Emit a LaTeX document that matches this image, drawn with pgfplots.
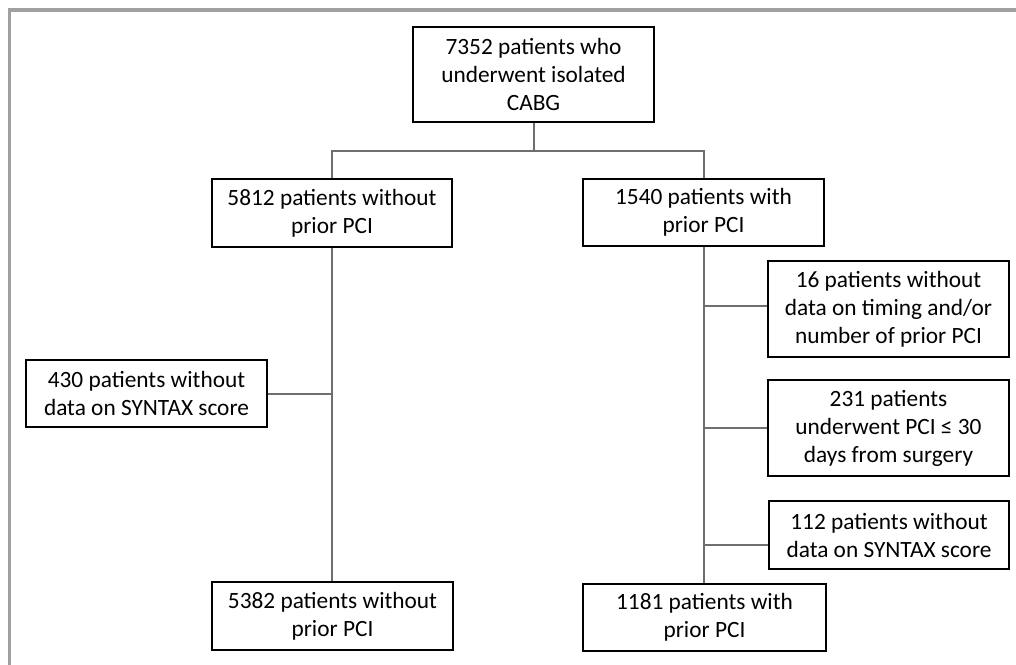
\documentclass[border=0pt]{standalone}
\usepackage{fontspec}
\setmainfont{Carlito}
\usepackage{pgfplots}
\pgfplotsset{compat=1.18}
\definecolor{framegray}{RGB}{160,160,160}
\definecolor{linegray}{RGB}{110,110,110}
\tikzset{fb/.style={align=center, font=\fontsize{17.5}{21}\selectfont, text=black, inner sep=0pt}}
\begin{document}
\begin{tikzpicture}
\begin{axis}[
  width=762pt, height=498pt, scale only axis,
  xmin=0, xmax=1016, ymin=0, ymax=664, y dir=reverse,
  hide axis, clip=false,
]
% outer frame
\addplot[framegray, line width=2.3pt, line cap=rect] coordinates {(9.5,664) (9.5,10) (1016,10)};
% connectors
\addplot[linegray, line width=0.8pt] coordinates {(534,122) (534,151)};
\addplot[linegray, line width=0.8pt] coordinates {(332,179) (332,151) (704,151) (704,179)};
\addplot[linegray, line width=0.8pt] coordinates {(332,247) (332,582)};
\addplot[linegray, line width=0.8pt] coordinates {(267,394) (332,394)};
\addplot[linegray, line width=0.8pt] coordinates {(704,246) (704,584)};
\addplot[linegray, line width=0.8pt] coordinates {(704,306) (768,306)};
\addplot[linegray, line width=0.8pt] coordinates {(704,428) (768,428)};
\addplot[linegray, line width=0.8pt] coordinates {(704,545) (769,545)};
% boxes
\addplot[black, line width=1pt] coordinates {(413,27) (654,27) (654,122) (413,122)} -- cycle;
\addplot[black, line width=1pt] coordinates {(212,179) (452,179) (452,247) (212,247)} -- cycle;
\addplot[black, line width=1pt] coordinates {(583,179) (824,179) (824,246) (583,246)} -- cycle;
\addplot[black, line width=1pt] coordinates {(26,360) (267,360) (267,427) (26,427)} -- cycle;
\addplot[black, line width=1pt] coordinates {(212,582) (453,582) (453,650) (212,650)} -- cycle;
\addplot[black, line width=1pt] coordinates {(768,261) (1009,261) (1009,357) (768,357)} -- cycle;
\addplot[black, line width=1pt] coordinates {(768,380) (1009,380) (1009,476) (768,476)} -- cycle;
\addplot[black, line width=1pt] coordinates {(769,501) (1009,501) (1009,569) (769,569)} -- cycle;
\addplot[black, line width=1pt] coordinates {(583,584) (826,584) (826,651) (583,651)} -- cycle;
% texts
\node[fb] at (axis cs:533.5,74.5) {7352 patients who\\underwent isolated\\CABG};
\node[fb] at (axis cs:332,213) {5812 patients without\\prior PCI};
\node[fb] at (axis cs:703.5,212.5) {1540 patients with\\prior PCI};
\node[fb] at (axis cs:146.5,393.5) {430 patients without\\data on SYNTAX score};
\node[fb] at (axis cs:332.5,616) {5382 patients without\\prior PCI};
\node[fb] at (axis cs:888.5,309) {16 patients without\\data on timing and/or\\number of prior PCI};
\node[fb] at (axis cs:888.5,428) {231 patients\\underwent PCI ≤ 30\\days from surgery};
\node[fb] at (axis cs:889,535) {112 patients without\\data on SYNTAX score};
\node[fb] at (axis cs:704.5,617.5) {1181 patients with\\prior PCI};
\end{axis}
\pgfresetboundingbox
\useasboundingbox (current axis.south west) rectangle (current axis.north east);
\end{tikzpicture}
\end{document}
